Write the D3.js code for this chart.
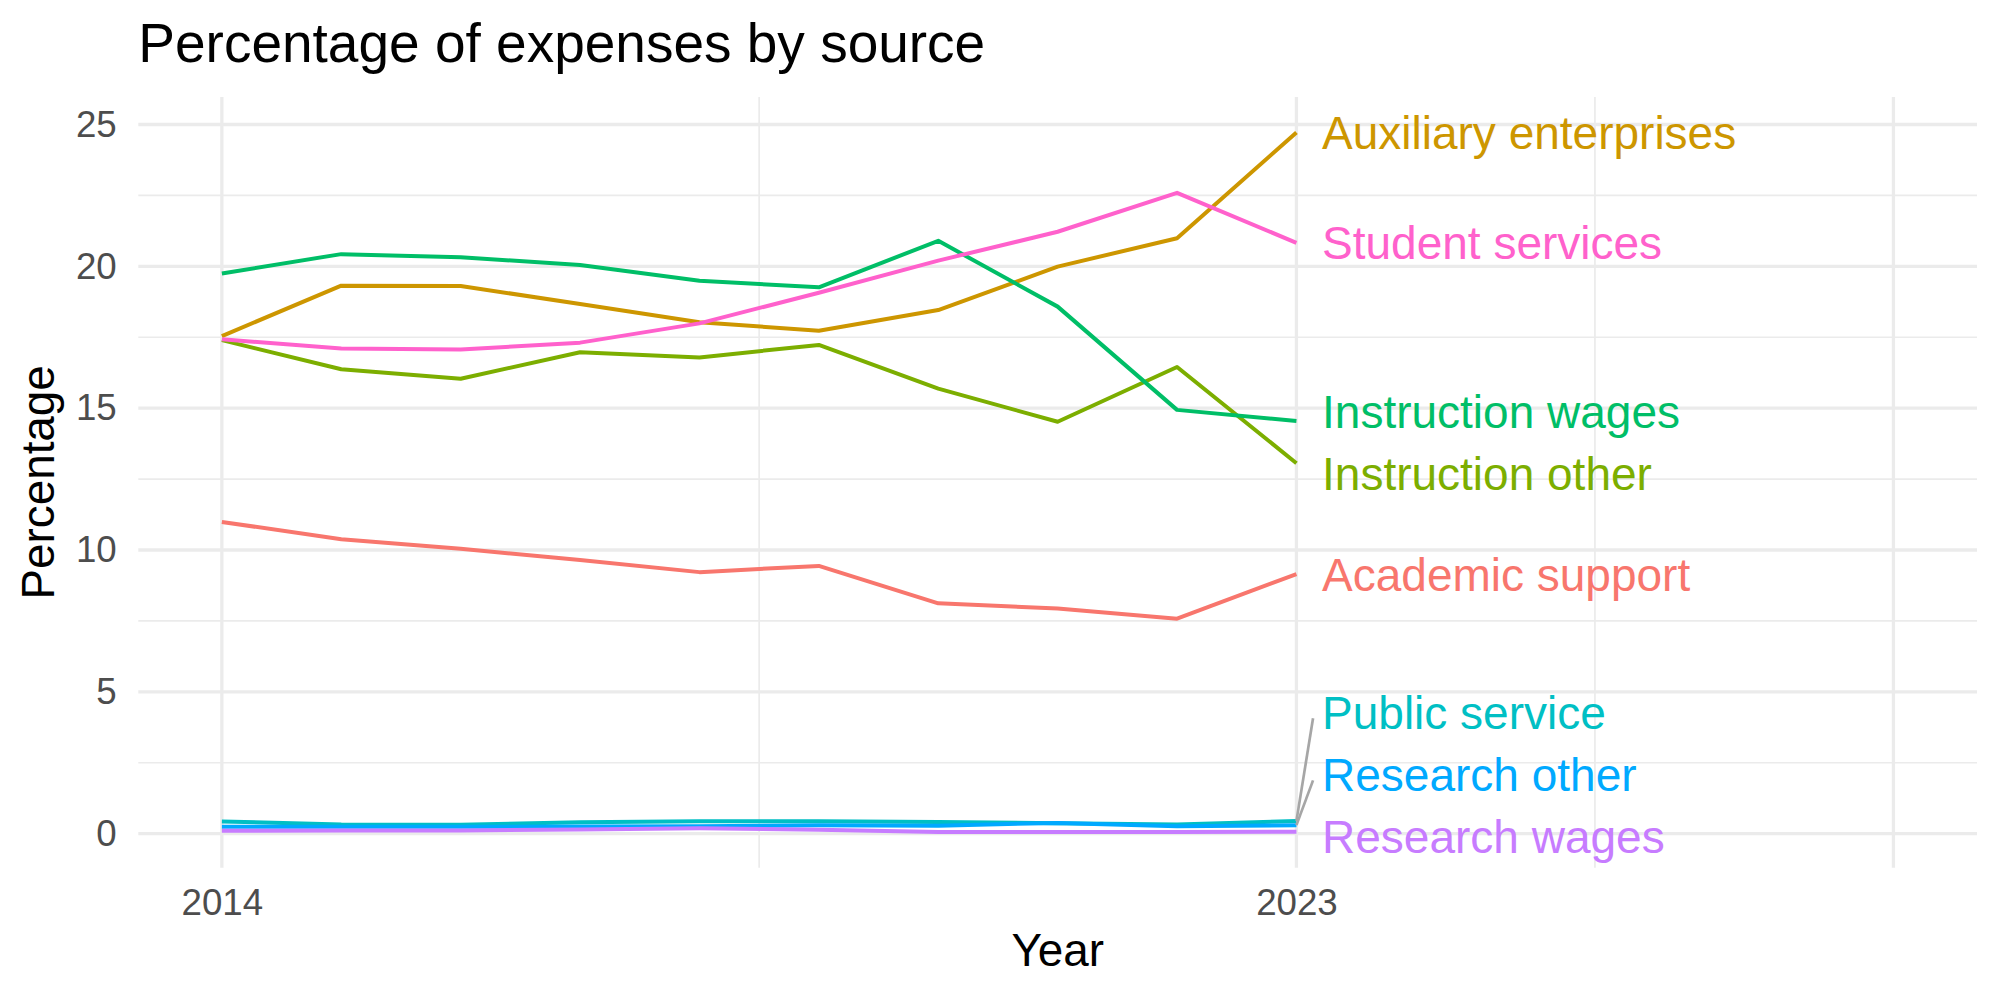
<!DOCTYPE html>
<html>
<head>
  <meta charset="utf-8">
  <title>Percentage of expenses by source</title>
  <script src="https://cdn.jsdelivr.net/npm/d3@7"></script>
  <style type="text/css">
    body { margin: 0; background: #fff; }
    svg text { font-family: "Liberation Sans", Arial, sans-serif; }
  </style>
</head>
<body>
  <div id="chart"></div>
<script type="text/javascript">
  // data
  const years = [2014, 2015, 2016, 2017, 2018, 2019, 2020, 2021, 2022, 2023];
  const sources = ['Academic support', 'Auxiliary enterprises', 'Instruction other', 'Instruction wages',
                   'Public service', 'Research other', 'Research wages', 'Student services'];
  const academicSupport      = [10.99, 10.38, 10.04, 9.65, 9.22, 9.44, 8.12, 7.94, 7.58, 9.15];
  const auxiliaryEnterprises = [17.54, 19.32, 19.31, 18.67, 18.03, 17.73, 18.46, 19.99, 20.99, 24.72];
  const instructionOther     = [17.40, 16.37, 16.04, 16.97, 16.79, 17.23, 15.69, 14.52, 16.45, 13.06];
  const instructionWages     = [19.75, 20.43, 20.32, 20.05, 19.49, 19.26, 20.90, 18.58, 14.94, 14.55];
  const publicService        = [0.43, 0.32, 0.31, 0.40, 0.44, 0.44, 0.41, 0.37, 0.32, 0.45];
  const researchOther        = [0.24, 0.24, 0.24, 0.25, 0.26, 0.30, 0.28, 0.38, 0.26, 0.30];
  const researchWages        = [0.10, 0.11, 0.11, 0.15, 0.19, 0.14, 0.06, 0.06, 0.06, 0.07];
  const studentServices      = [17.43, 17.10, 17.07, 17.31, 17.99, 19.07, 20.20, 21.22, 22.59, 20.83];
  const seriesValues = [academicSupport, auxiliaryEnterprises, instructionOther, instructionWages,
                        publicService, researchOther, researchWages, studentServices];

  const xTicks = [2014, 2023];
  const xMajor = [2014, 2023, 2028];
  const xMinor = [2018.5, 2025.5];
  const yTicks = [0, 5, 10, 15, 20, 25];
  const yMinor = [2.5, 7.5, 12.5, 17.5, 22.5];

  const colors = ['#F8766D', '#CD9600', '#7CAE00', '#00BE67', '#00BFC4', '#00A9FF', '#C77CFF', '#FF61CC'];

  const width = 2000, height = 1000;
  const panel = { left: 138.3, right: 1977, top: 97, bottom: 867.7 };

  const x = d3.scaleLinear().domain([2013.3, 2028.7]).range([panel.left, panel.right]);
  const y = d3.scaleLinear().domain([-1.2, 25.97]).range([panel.bottom, panel.top]);

  const svg = d3.select('#chart').append('svg')
    .attr('width', width)
    .attr('height', height);

  // grid
  const grid = svg.append('g');
  grid.selectAll('.ymin').data(yMinor).enter().append('line')
    .attr('x1', panel.left).attr('x2', panel.right)
    .attr('y1', d => y(d)).attr('y2', d => y(d))
    .attr('stroke', '#EBEBEB').attr('stroke-width', 1.7);
  grid.selectAll('.xmin').data(xMinor).enter().append('line')
    .attr('y1', panel.top).attr('y2', panel.bottom)
    .attr('x1', d => x(d)).attr('x2', d => x(d))
    .attr('stroke', '#EBEBEB').attr('stroke-width', 1.7);
  grid.selectAll('.ymaj').data(yTicks).enter().append('line')
    .attr('x1', panel.left).attr('x2', panel.right)
    .attr('y1', d => y(d)).attr('y2', d => y(d))
    .attr('stroke', '#EBEBEB').attr('stroke-width', 3.3);
  grid.selectAll('.xmaj').data(xMajor).enter().append('line')
    .attr('y1', panel.top).attr('y2', panel.bottom)
    .attr('x1', d => x(d)).attr('x2', d => x(d))
    .attr('stroke', '#EBEBEB').attr('stroke-width', 3.3);

  // axes
  const yAxis = svg.append('g')
    .attr('transform', `translate(${panel.left},0)`)
    .call(d3.axisLeft(y).tickValues(yTicks).tickSize(0).tickPadding(21.6));
  const xAxis = svg.append('g')
    .attr('transform', `translate(0,${panel.bottom})`)
    .call(d3.axisBottom(x).tickValues(xTicks).tickFormat(d3.format('d')).tickSize(0).tickPadding(21.3));
  [xAxis, yAxis].forEach(a => {
    a.select('.domain').remove();
    a.selectAll('text').attr('font-size', 36.7).attr('fill', '#4D4D4D')
      .attr('font-family', '"Liberation Sans", Arial, sans-serif');
  });

  // lines
  const series = sources.map((name, i) => ({
    name: name,
    color: colors[i],
    values: years.map((yr, j) => ({ year: yr, value: seriesValues[i][j] }))
  }));
  const line = d3.line().x(d => x(d.year)).y(d => y(d.value));
  svg.append('g').selectAll('path').data(series).enter()
    .append('path')
      .attr('d', d => line(d.values))
      .attr('fill', 'none')
      .attr('stroke', d => d.color)
      .attr('stroke-width', 4)
      .attr('stroke-linejoin', 'round');

  // end labels, pushed apart vertically (simple 1D repel)
  const gap = 2.19, lowest = -0.1, highest = 24.87;
  const ends = series.map(s => ({ s: s, end: s.values[s.values.length - 1].value }))
    .sort((a, b) => a.end - b.end);
  let clusters = [];
  ends.forEach(e => {
    clusters.push({ items: [e], mean: e.end });
    let merged = true;
    while (merged && clusters.length > 1) {
      merged = false;
      const c = clusters[clusters.length - 1], p = clusters[clusters.length - 2];
      const cLow = c.mean - (c.items.length - 1) * gap / 2;
      const pHigh = p.mean + (p.items.length - 1) * gap / 2;
      if (cLow - pHigh < gap) {
        const items = p.items.concat(c.items);
        clusters.splice(clusters.length - 2, 2, { items: items, mean: d3.mean(items, d => d.end) });
        merged = true;
      }
    }
  });
  const labels = [];
  clusters.forEach(c => {
    let start = c.mean - (c.items.length - 1) * gap / 2;
    if (start < lowest) start = lowest;
    const top = start + (c.items.length - 1) * gap;
    if (top > highest) start -= top - highest;
    c.items.forEach((e, k) => labels.push({ s: e.s, end: e.end, pos: start + k * gap }));
  });

  const labelX = x(2023) + 25.6;
  svg.append('g').selectAll('line').data(labels.filter(d => Math.abs(d.pos - d.end) > 1)).enter()
    .append('line')
      .attr('x1', x(2023)).attr('y1', d => y(d.end))
      .attr('x2', labelX - 9).attr('y2', d => y(d.pos) + 6)
      .attr('stroke', '#A6A6A6')
      .attr('stroke-width', 2.7);
  svg.append('g').selectAll('text').data(labels).enter()
    .append('text')
      .attr('x', labelX)
      .attr('y', d => y(d.pos))
      .attr('dy', '0.36em')
      .attr('font-size', 46)
      .attr('fill', d => d.s.color)
      .text(d => d.s.name);

  // titles
  svg.append('text')
    .attr('x', panel.left).attr('y', 62)
    .attr('font-size', 55).attr('fill', '#000')
    .text('Percentage of expenses by source');
  svg.append('text')
    .attr('x', (panel.left + panel.right) / 2).attr('y', 966)
    .attr('text-anchor', 'middle')
    .attr('font-size', 45.8).attr('fill', '#000')
    .text('Year');
  svg.append('text')
    .attr('transform', `translate(54,${(panel.top + panel.bottom) / 2}) rotate(-90)`)
    .attr('text-anchor', 'middle')
    .attr('font-size', 45.8).attr('fill', '#000')
    .text('Percentage');
</script>
</body>
</html>
